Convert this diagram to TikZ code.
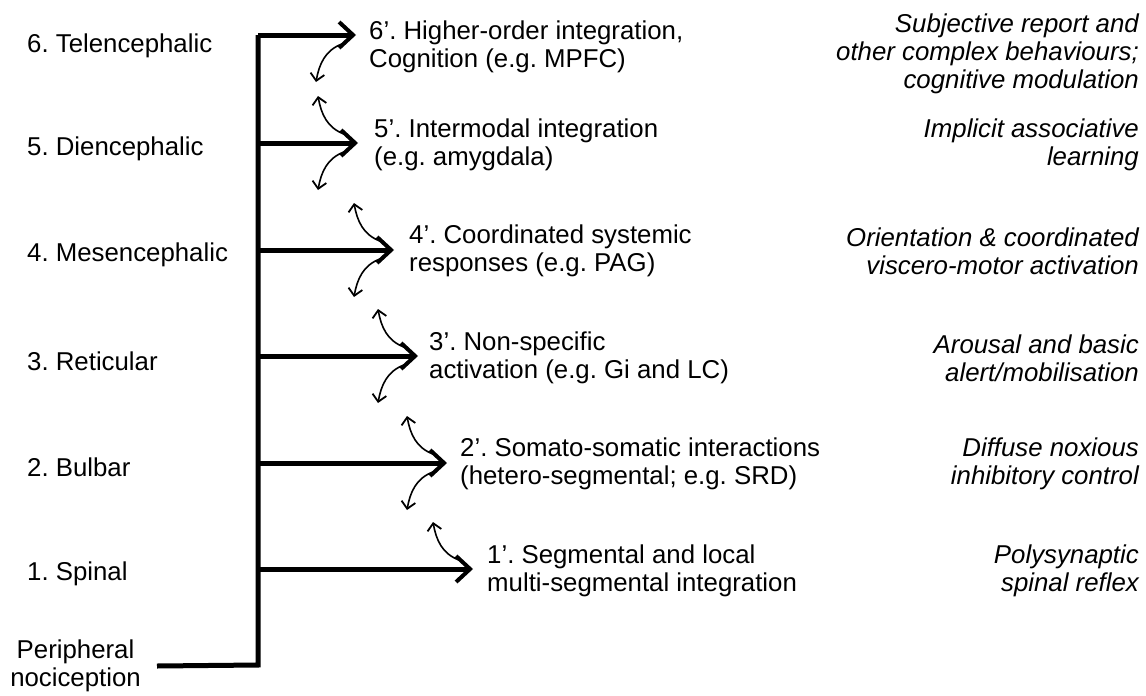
\documentclass[tikz,border=0pt]{standalone}
\usepackage{fontspec}
\setmainfont{Liberation Sans}
\usetikzlibrary{arrows.meta}

\begin{document}
\frenchspacing
\begin{tikzpicture}[x=1pt, y=-1pt]
    % Define node styles
    \tikzstyle{level} = [anchor=west, inner sep=0pt, align=left, font=\fontsize{25.8}{28}\selectfont]
    \tikzstyle{response} = [anchor=west, inner sep=0pt, align=left, font=\fontsize{25.8}{28}\selectfont]
    \tikzstyle{behaviour} = [anchor=east, inner sep=0pt, align=right, font=\fontsize{25.8}{28}\selectfont\itshape]
    \tikzstyle{trunk} = [line width=5pt, line join=miter]
    \tikzstyle{relay} = [line width=5pt, -{Straight Barb[length=14pt, width=26pt, line width=4pt]}]
    \tikzstyle{feedback} = [line width=1.6pt, -{Straight Barb[length=7pt, width=14pt, line width=1.8pt]}]

    \useasboundingbox (0,0) rectangle (1146,696);

    % Levels (left column)
    \node[level] (l6) at (27,46) {6. Telencephalic};
    \node[level] (l5) at (27,149) {5. Diencephalic};
    \node[level] (l4) at (27,255) {4. Mesencephalic};
    \node[level] (l3) at (27,361) {3. Reticular};
    \node[level] (l2) at (27,467) {2. Bulbar};
    \node[level] (l1) at (27,574) {1. Spinal};
    \node[inner sep=0pt, align=center, anchor=east, font=\fontsize{25.8}{28}\selectfont] (p) at (141,666) {Peripheral\\nociception};

    % Trunk branch points and arrow tips
    \coordinate (t0) at (258,665);
    \coordinate (t6) at (258,35);
    \coordinate (t5) at (258,143);
    \coordinate (t4) at (258,250);
    \coordinate (t3) at (258,356);
    \coordinate (t2) at (258,463);
    \coordinate (t1) at (258,569);
    \coordinate (h6) at (356,35);
    \coordinate (h5) at (358,143);
    \coordinate (h4) at (394,250);
    \coordinate (h3) at (418,356);
    \coordinate (h2) at (447,463);
    \coordinate (h1) at (473,569);

    % Responses (middle column)
    \node[response] (r6) at (369,47) {6'. Higher-order integration,\\Cognition (e.g. MPFC)};
    \node[response] (r5) at (374,145) {5'. Intermodal integration\\(e.g. amygdala)};
    \node[response] (r4) at (409,251) {4'. Coordinated systemic\\responses (e.g. PAG)};
    \node[response] (r3) at (429,358) {3'. Non-specific\\activation (e.g. Gi and LC)};
    \node[response] (r2) at (460,464) {2'. Somato-somatic interactions\\(hetero-segmental; e.g. SRD)};
    \node[response] (r1) at (487,571) {1'. Segmental and local\\multi-segmental integration};

    % Behaviours (right column)
    \node[behaviour] (b6) at (1139,54) {Subjective report and\\other complex behaviours;\\cognitive modulation};
    \node[behaviour] (b5) at (1139,145) {Implicit associative\\learning};
    \node[behaviour] (b4) at (1139,251) {Orientation \& coordinated\\viscero-motor activation};
    \node[behaviour] (b3) at (1139,358) {Arousal and basic\\alert/mobilisation};
    \node[behaviour] (b2) at (1139,464) {Diffuse noxious\\inhibitory control};
    \node[behaviour] (b1) at (1139,571) {Polysynaptic\\spinal reflex};

    % Trunk
    \draw[trunk] ([xshift=16pt]p.east) -- (t0) -- (t6);

    % Ascending relays
    \foreach \i in {6,...,1}
        \draw[relay] (t\i) -- (h\i);

    % Feedback arrows (down)
    \foreach \i in {6,5,4,3,2}
        \draw[feedback] ([shift={(-14,9)}]h\i) to[out=200, in=80] ([shift={(-40,47)}]h\i);
    % Feedback arrows (up)
    \foreach \i in {5,4,3,2,1}
        \draw[feedback] ([shift={(-14,-9)}]h\i) to[out=160, in=-80] ([shift={(-40,-47)}]h\i);
\end{tikzpicture}
\end{document}
